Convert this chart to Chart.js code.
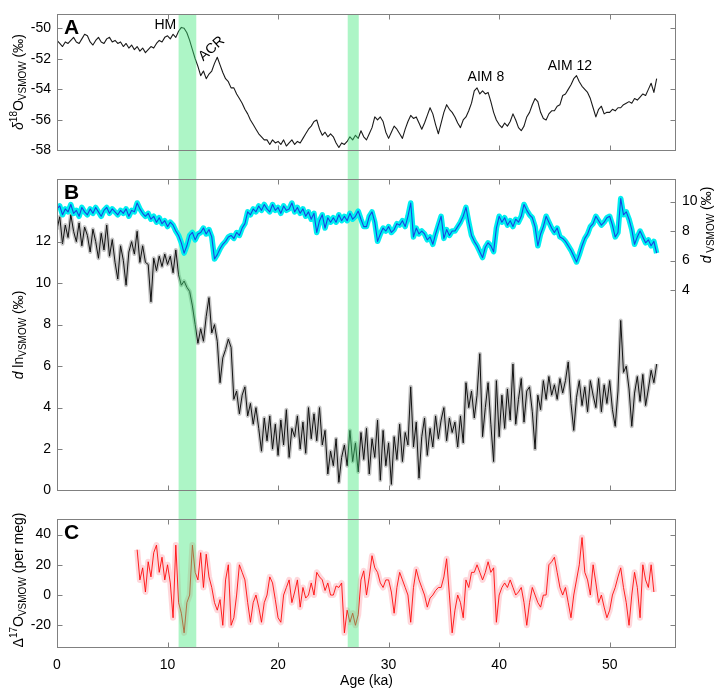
<!DOCTYPE html>
<html><head><meta charset="utf-8">
<script src="https://cdn.jsdelivr.net/npm/chart.js@4.4.1/dist/chart.umd.min.js"></script>
<style>
html,body{margin:0;padding:0;background:#fff;}
#wrap{position:relative;width:720px;height:690px;overflow:hidden;}
canvas{position:absolute;left:0;}
</style></head><body>
<div id="wrap">
<canvas id="cA" width="720" height="165" style="top:0px"></canvas>
<canvas id="cB" width="720" height="340" style="top:165px"></canvas>
<canvas id="cC" width="720" height="185" style="top:505px"></canvas>
</div>
<script>
// ---------- DATA ----------
const AGE_STEP = 0.25;          // ka between samples
// Panel A: d18O (permil), from 0 ka
const d18O = [
-50.8,-51.0,-51.2,-50.9, -51.0,-50.8,-50.6,-50.9, -51.0,-50.7,-50.4,-50.5, -50.9,-51.1,-50.8,-50.6,
-50.9,-51.0,-50.7,-50.6, -50.9,-50.8,-51.0,-50.9, -51.2,-51.0,-51.3,-51.1, -51.4,-51.2,-51.5,-51.3,
-51.6,-51.4,-51.2,-51.3, -51.0,-50.8,-50.9,-50.6, -50.5,-50.7,-50.4,-50.6, -50.2,-49.95,-50.0,-50.3,
-50.8,-51.4,-52.0,-52.5, -53.1,-52.8,-53.3,-53.0, -52.8,-52.3,-51.9,-52.4, -52.9,-53.3,-53.5,-53.9,
-53.9,-54.3,-54.6,-54.9, -55.3,-55.6,-56.0,-56.3, -56.6,-56.9,-57.1,-57.3, -57.3,-57.6,-57.3,-57.5,
-57.4,-57.6,-57.3,-57.7, -57.5,-57.3,-57.6,-57.4, -57.5,-57.2,-56.9,-56.6, -56.4,-56.1,-56.0,-56.6,
-57.0,-56.8,-57.1,-56.9, -57.1,-57.5,-57.8,-57.5, -57.6,-57.4,-57.1,-57.3, -57.0,-57.2,-56.7,-57.1,
-57.3,-56.9,-56.5,-55.8, -56.0,-55.8,-56.1,-56.8, -57.2,-56.8,-56.4,-56.6, -56.9,-57.2,-56.6,-56.1,
-55.7,-55.9,-55.8,-56.2, -56.6,-56.2,-55.7,-55.2, -55.6,-56.3,-56.9,-56.2, -55.5,-55.0,-55.3,-55.5,
-55.8,-56.2,-56.5,-56.0, -55.8,-55.4,-54.9,-54.1, -53.9,-54.3,-54.1,-54.3, -54.2,-54.8,-55.5,-56.0,
-56.3,-56.5,-56.2,-56.4, -56.1,-55.6,-56.0,-56.5, -56.7,-56.4,-55.8,-55.5, -55.0,-54.6,-54.8,-55.5,
-55.9,-56.0,-55.6,-55.4, -55.4,-55.1,-55.0,-54.4, -54.3,-54.0,-53.7,-53.3, -53.1,-53.5,-53.8,-54.0,
-54.2,-54.6,-55.2,-55.8, -55.3,-55.1,-55.6,-55.5, -55.5,-55.3,-55.4,-55.2, -55.2,-55.0,-54.9,-54.8,
-54.9,-54.6,-54.7,-54.5, -54.3,-54.4,-54.0,-53.6, -54.2,-53.3
];
// Panel B: d ln (permil, left axis), from 0 ka
const dln = [
12.6,13.2,11.9,12.8, 12.2,13.3,12.5,12.0, 12.9,11.8,12.7,12.3, 11.5,12.6,12.0,11.2,
12.4,11.6,12.8,11.3, 12.1,11.0,10.2,11.8, 11.1,9.9,11.5,12.0, 11.4,12.5,11.0,11.8,
11.0,10.9,9.1,11.2, 10.6,11.3,10.8,11.4, 10.9,11.3,10.5,11.6, 10.4,9.9,10.1,9.8,
9.6,8.9,8.0,7.1, 7.8,7.2,8.4,9.3, 7.6,8.0,7.2,5.2, 6.4,6.8,7.3,6.9,
4.4,4.8,3.7,4.6, 5.0,3.6,4.2,3.2, 4.0,3.0,1.9,3.5, 2.4,3.6,2.0,3.2,
1.7,3.4,2.2,3.9, 1.6,3.0,2.6,3.6, 2.0,3.3,1.8,4.0, 2.5,3.7,2.4,4.0,
2.2,2.9,0.8,1.9, 1.2,2.5,0.4,1.6, 2.2,1.2,2.9,1.4, 2.3,0.9,2.8,1.5,
3.0,0.8,2.5,1.6, 3.4,0.5,2.9,1.2, 2.3,0.3,2.6,1.5, 3.2,1.4,2.8,2.2,
5.0,2.1,3.3,0.6, 2.6,3.5,1.7,3.0, 2.1,3.6,2.5,3.4, 4.0,2.4,3.5,2.8,
3.3,2.1,3.6,2.3, 5.2,4.0,4.8,3.5, 4.6,6.6,2.6,4.0, 5.2,3.2,1.4,5.3,
2.6,4.6,3.0,4.9, 3.4,6.1,3.2,4.4, 5.4,3.3,4.8,5.0, 3.8,2.0,4.6,3.9,
5.3,4.4,5.5,4.6, 5.1,4.4,5.4,4.7, 5.3,6.2,4.2,2.9, 4.5,5.3,4.1,5.0,
3.8,5.3,4.6,4.0, 5.4,3.8,5.1,4.2, 5.3,3.9,3.1,4.8, 8.2,5.7,6.0,4.9,
3.1,4.7,5.5,4.3, 5.6,4.1,4.9,5.8, 5.2,6.1
];
// Panel B: d VSMOW (permil, right axis), from 0 ka
const dV = [
9.5,9.7,9.1,9.5, 9.3,9.8,9.2,9.4, 9.0,9.6,9.3,9.1, 9.5,9.2,9.6,9.3,
9.0,9.4,9.6,9.2, 9.5,9.3,9.1,9.4, 9.2,9.5,9.0,9.4, 9.3,9.9,9.5,9.2,
9.0,9.2,8.8,9.0, 8.6,8.9,8.5,8.7, 8.3,8.6,8.4,8.0, 7.7,7.2,6.5,7.0,
7.7,7.9,7.4,7.8, 7.9,8.2,7.8,8.1, 7.6,6.1,6.4,6.8, 7.1,7.3,7.6,7.7,
7.5,7.9,7.7,8.2, 8.5,9.3,9.1,9.5, 9.3,9.7,9.4,9.8, 9.5,9.3,9.8,9.4,
9.6,9.2,9.7,9.4, 9.5,9.9,9.3,9.6, 9.2,9.5,9.0,9.3, 8.8,9.2,7.9,8.7,
9.1,8.2,8.9,8.6, 8.9,8.6,9.1,8.7, 9.0,8.7,9.2,8.8, 9.0,9.35,8.8,8.3,
8.3,9.0,9.3,8.6, 7.3,7.8,8.2,8.0, 8.3,7.9,8.1,8.5, 8.4,8.7,8.3,9.0,
9.9,7.6,8.2,7.8, 8.0,7.8,7.4,7.6, 7.1,7.8,8.4,9.0, 7.5,8.1,7.7,8.0,
8.0,8.3,8.6,9.0, 9.6,8.6,7.7,7.3, 7.0,6.6,6.2,6.9, 7.2,7.0,6.6,8.2,
9.0,8.6,8.9,8.4, 8.7,8.3,8.8,8.6, 9.0,9.8,9.4,9.1, 8.9,8.3,7.0,7.8,
8.3,9.0,8.6,8.2, 7.9,8.2,7.6,7.5, 7.3,7.0,6.7,6.3, 5.9,6.4,7.0,7.5,
7.8,8.3,8.5,9.0, 8.7,8.4,8.6,8.9, 9.0,8.4,7.6,7.9, 10.2,9.1,9.3,8.8,
8.1,7.1,7.6,8.0, 7.6,7.2,7.4,7.0, 7.3,6.5
];
// Panel C: D17O (per meg), from 7.25 ka
const C_START = 7.25;
const d17O = [
30,10,18, 2,22,12,28, 33,15,25,10, 20,8,-15,33, -5,-12,-25,-5, 0,33,15,10,
28,5,27,12, 5,-5,-10,-3, -20,10,20,-20, -15,0,20,15, 10,-5,-18,-5, 0,-8,-18,-5,
0,12,8,-3, -15,-18,0,5, 10,-5,2,10, -8,5,-2,0, 8,0,15,12, 10,3,8,0, 0,6,5,8,
-25,-10,-18,-12, -20,-13,10,16, 0,12,26,18, 15,8,5,10, 10,2,-12,5, 15,10,5,0,
-18,5,17,10, 5,0,-8,-2, 0,3,5,5, 12,24,0,-25, -10,0,-5,-15, 10,5,15,15,
20,15,10,15, 22,15,18,-18, 0,5,8,5, 10,5,0,2, 5,-5,-20,-5, 5,0,-5,-8,
0,0,20,22, 25,15,5,0, 5,-5,-15,0, 10,20,38,15, 10,0,20,8, -5,0,-8,-15,
-10,0,5,12, 18,5,-5,-20, 0,15,5,-15, 20,10,5,20, 2
];
const X_TICKS = [0,10,20,30,40,50];
const TICKS_A = [-58,-56,-54,-52,-50];
const TICKS_B = [0,2,4,6,8,10,12];
const TICKS_B2 = [4,6,8,10];
const TICKS_C = [-20,0,20,40];
const BANDS = [[11.0,12.6],[26.3,27.3]];
const ANNOT_TEXT = ['HM','ACR','AIM 8','AIM 12'];
const ANNOT_AGE = [9.8,14.0,38.8,46.4];
const ANNOT_VAL = [-49.77,-51.35,-53.18,-52.5];

// ---------- BUILD ----------
const FONT = '"Liberation Sans", Arial, Helvetica, sans-serif';
const agesMain = d18O.map((_, i) => i * AGE_STEP);
const pts = (ages, vals) => vals.map((v, i) => ({x: ages[i], y: v}));
const ptsA = pts(agesMain, d18O);
const ptsLn = pts(agesMain, dln);
const ptsV = pts(agesMain, dV);
const agesC = d17O.map((_, i) => C_START + i * AGE_STEP);
const ptsC = pts(agesC, d17O);

function drawRich(ctx, x, cy, parts) {
  ctx.save();
  ctx.translate(x, cy);
  ctx.rotate(-Math.PI / 2);
  let w = 0;
  parts.forEach(p => { ctx.font = (p.it ? 'italic ' : '') + p.s + 'px ' + FONT; p.w = ctx.measureText(p.t).width; w += p.w; });
  let cx = -w / 2;
  ctx.textBaseline = 'middle'; ctx.textAlign = 'left'; ctx.fillStyle = '#000';
  parts.forEach(p => { ctx.font = (p.it ? 'italic ' : '') + p.s + 'px ' + FONT; ctx.fillText(p.t, cx, p.dy || 0); cx += p.w; });
  ctx.restore();
}

function drawBands(chart, o) {
  const {ctx, chartArea: a, scales} = chart;
  const top = o.bandTop === 'area' ? a.top : 0;
  const bot = o.bandBottom === 'area' ? a.bottom : chart.height;
  ctx.save();
  ctx.fillStyle = 'rgba(60,230,120,0.42)';
  BANDS.forEach(b => {
    const x1 = scales.x.getPixelForValue(b[0]);
    const x2 = scales.x.getPixelForValue(b[1]);
    ctx.fillRect(x1, top, x2 - x1, bot - top);
  });
  ctx.restore();
}

const framePlugin = {
  id: 'frame',
  afterDatasetDraw(chart, args, o) {
    if (args.index === o.bandAfter) drawBands(chart, o);
  },
  afterDraw(chart, args, o) {
    const {ctx, chartArea: a, scales} = chart;
    ctx.save();
    ctx.strokeStyle = '#808080'; ctx.lineWidth = 1;
    const L = Math.round(a.left) + 0.5, R = Math.round(a.right) - 0.5;
    const T = Math.round(a.top) + 0.5, B = Math.round(a.bottom) - 0.5;
    ctx.strokeRect(L, T, R - L, B - T);
    ctx.beginPath();
    X_TICKS.forEach(v => {
      const px = Math.round(scales.x.getPixelForValue(v)) + 0.5;
      if (px > L + 2 && px < R - 2) {
        ctx.moveTo(px, T); ctx.lineTo(px, T + 5);
        ctx.moveTo(px, B); ctx.lineTo(px, B - 5);
      }
    });
    (o.leftTicks || []).forEach(v => {
      const py = Math.round(scales.y.getPixelForValue(v)) + 0.5;
      if (py > T + 2 && py < B - 2) {
        ctx.moveTo(L, py); ctx.lineTo(L + 5, py);
        if (o.mirrorY) { ctx.moveTo(R, py); ctx.lineTo(R - 5, py); }
      }
    });
    (o.rightTicks || []).forEach(v => {
      const py = Math.round(scales.y2.getPixelForValue(v)) + 0.5;
      ctx.moveTo(R, py); ctx.lineTo(R - 5, py);
    });
    ctx.stroke();
    // panel letter
    ctx.fillStyle = '#000';
    ctx.font = 'bold 21px ' + FONT;
    ctx.textAlign = 'left'; ctx.textBaseline = 'alphabetic';
    ctx.fillText(o.letter, a.left + 7, a.top + 19.5);
    // axis titles
    (o.titles || []).forEach(t => drawRich(ctx, t.x, t.y, t.parts));
    // annotations
    if (o.annot) {
      ctx.font = '14px ' + FONT;
      ctx.textAlign = 'center'; ctx.textBaseline = 'middle';
      ANNOT_TEXT.forEach((t, i) => {
        const px = scales.x.getPixelForValue(ANNOT_AGE[i]);
        const py = scales.y.getPixelForValue(ANNOT_VAL[i]);
        ctx.save(); ctx.translate(px, py);
        if (t === 'ACR') ctx.rotate(-42 * Math.PI / 180);
        ctx.fillText(t, 0, 0);
        ctx.restore();
      });
    }
    ctx.restore();
  }
};

const tickFont = {size: 14, family: FONT};
function xScale(show) {
  const s = {
    type: 'linear', min: 0, max: 56, display: show,
    afterBuildTicks: sc => { sc.ticks = X_TICKS.map(v => ({value: v})); },
    grid: {display: false, drawTicks: false}, border: {display: false},
    ticks: {font: tickFont, color: '#000', padding: 9, maxRotation: 0, autoSkip: false},
    title: {display: show, text: 'Age (ka)', font: tickFont, color: '#000', padding: 0}
  };
  if (show) s.afterFit = sc => { sc.height = 42; };
  return s;
}
function yScale(min, max, ticks, pos, width) {
  return {
    type: 'linear', min, max, position: pos,
    afterBuildTicks: sc => { sc.ticks = ticks.map(v => ({value: v})); },
    afterFit: sc => { sc.width = width; },
    grid: {display: false, drawTicks: false}, border: {display: false},
    ticks: {font: tickFont, color: '#000', padding: 6}
  };
}
const lineDs = (data, color, width, order, yAxisID) => ({
  data, borderColor: color, borderWidth: width, pointRadius: 0, tension: 0,
  fill: false, order, yAxisID: yAxisID || 'y', borderJoinStyle: 'round'
});
const common = {
  responsive: false, animation: false, events: [],
  plugins: {legend: {display: false}, tooltip: {enabled: false}}
};

new Chart(document.getElementById('cA'), {
  type: 'line',
  data: {datasets: [lineDs(ptsA, '#1a1a1a', 1.1, 0)]},
  options: Object.assign({}, common, {
    layout: {padding: {left: 0, right: 44, top: 2, bottom: 6}},
    scales: {x: xScale(false), y: yScale(-58, -49.1, TICKS_A, 'left', 57)},
    plugins: Object.assign({}, common.plugins, {frame: {
      bandAfter: 0, bandTop: 'area', bandBottom: 'canvas', letter: 'A', annot: true,
      leftTicks: TICKS_A, mirrorY: true,
      titles: [{x: 19, y: 82, parts: [
        {t: 'δ', s: 14, it: true}, {t: '18', s: 10, dy: -5}, {t: 'O', s: 14},
        {t: 'VSMOW', s: 10, dy: 4}, {t: ' (‰)', s: 14}]}]
    }})
  }),
  plugins: [framePlugin]
});

new Chart(document.getElementById('cB'), {
  type: 'line',
  data: {datasets: [
    lineDs(ptsLn, 'rgba(110,110,110,0.4)', 4, 3),
    lineDs(ptsLn, '#111111', 1.0, 2),
    lineDs(ptsV, 'rgb(0,238,240)', 5.5, 1, 'y2'),
    lineDs(ptsV, 'rgb(25,70,225)', 1.1, 0, 'y2')
  ]},
  options: Object.assign({}, common, {
    layout: {padding: {left: 0, right: 0, top: 5, bottom: 8}},
    scales: {
      x: xScale(false),
      y: yScale(0, 15, TICKS_B, 'left', 57),
      y2: yScale(-9.6, 11.5, TICKS_B2, 'right', 44)
    },
    plugins: Object.assign({}, common.plugins, {frame: {
      bandAfter: 1, bandTop: 'canvas', bandBottom: 'canvas', letter: 'B',
      leftTicks: TICKS_B, mirrorY: false, rightTicks: TICKS_B2,
      titles: [
        {x: 19, y: 170, parts: [{t: 'd', s: 14, it: true}, {t: ' ln', s: 14}, {t: 'VSMOW', s: 10, dy: 4}, {t: ' (‰)', s: 14}]},
        {x: 707, y: 60, parts: [{t: 'd', s: 14, it: true}, {t: ' VSMOW', s: 10, dy: 4}, {t: ' (‰)', s: 14}]}
      ]
    }})
  }),
  plugins: [framePlugin]
});

new Chart(document.getElementById('cC'), {
  type: 'line',
  data: {datasets: [
    lineDs(ptsC, 'rgba(255,150,160,0.38)', 6, 1),
    lineDs(ptsC, 'rgb(255,10,10)', 0.9, 0)
  ]},
  options: Object.assign({}, common, {
    layout: {padding: {left: 0, right: 44, top: 7, bottom: 0}},
    scales: {x: xScale(true), y: yScale(-35, 50, TICKS_C, 'left', 57)},
    plugins: Object.assign({}, common.plugins, {frame: {
      bandAfter: 1, bandTop: 'canvas', bandBottom: 'area', letter: 'C',
      leftTicks: TICKS_C, mirrorY: true,
      titles: [{x: 19, y: 75, parts: [
        {t: 'Δ', s: 14}, {t: '17', s: 10, dy: -5}, {t: 'O', s: 14},
        {t: 'VSMOW', s: 10, dy: 4}, {t: ' (per meg)', s: 14}]}]
    }})
  }),
  plugins: [framePlugin]
});
</script>
</body></html>
